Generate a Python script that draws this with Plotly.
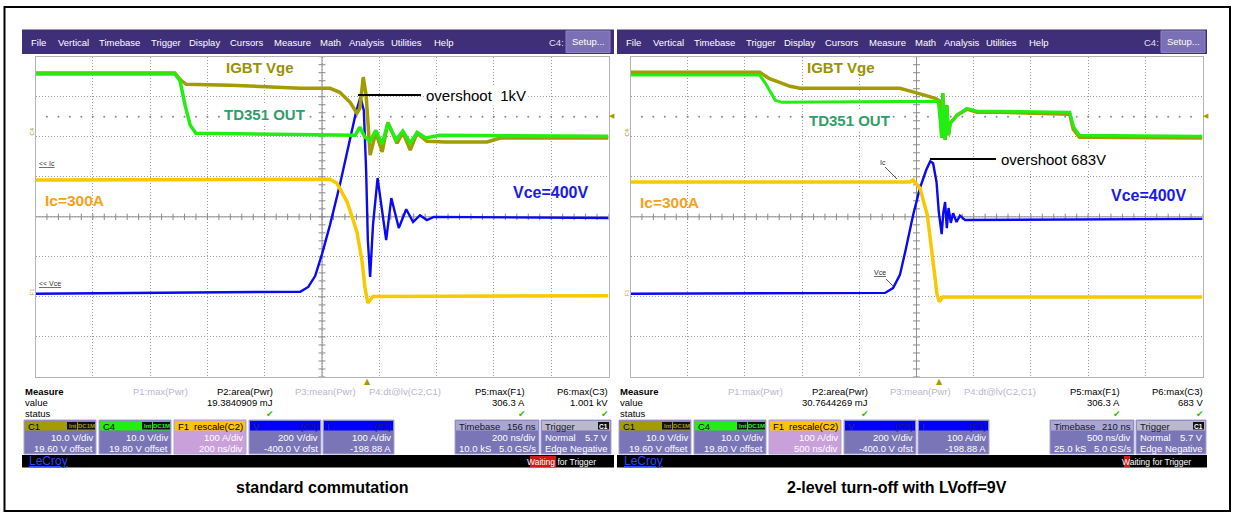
import plotly.graph_objects as go

W, H = 1239, 515
def X(p): return p / W
def Y(p): return 1 - p / H

# ---------------- waveform data (time in divisions 0..10, amplitude in divisions -4..4) -------------
# left scope: standard commutation
L_vge_t = [0, 2.43, 2.54, 2.63, 3.39, 4.62, 5.14, 5.31, 5.49, 5.61, 5.66, 5.72, 5.77, 5.84, 5.94, 6.05,
           6.15, 6.31, 6.41, 6.54, 6.66, 6.83, 7.15, 7.88, 8.11, 10]
L_vge_v = [3.59, 3.59, 3.41, 3.31, 3.29, 3.21, 3.21, 3.11, 2.86, 2.59, 2.71, 3.49, 3.04, 1.54, 2.11, 1.62,
           2.36, 1.84, 2.11, 1.67, 2.09, 1.89, 1.87, 1.87, 1.97, 1.97]
L_out_t = [0, 2.43, 2.52, 2.61, 2.70, 2.80, 5.58, 5.66, 5.75, 5.84, 5.94, 6.05, 6.15, 6.29, 6.41, 6.54,
           6.66, 6.81, 7.06, 10]
L_out_v = [3.57, 3.57, 3.41, 2.79, 2.29, 2.09, 2.04, 2.24, 1.99, 1.89, 2.16, 1.82, 2.34, 1.92, 2.14, 1.84,
           2.11, 1.97, 2.04, 2.01]
L_ic_t = [0, 5.14, 5.26, 5.44, 5.61, 5.70, 5.75, 5.80, 5.89, 10]
L_ic_v = [0.92, 0.94, 0.84, 0.37, -0.38, -1.12, -1.77, -2.15, -1.99, -1.97]
L_vce_t = [0, 4.62, 4.76, 4.88, 5.00, 5.14, 5.31, 5.49, 5.59, 5.67, 5.73, 5.77, 5.80, 5.84, 5.89, 5.97,
           6.04, 6.12, 6.21, 6.34, 6.47, 6.59, 6.71, 6.83, 6.95, 10]
L_vce_v = [-1.92, -1.87, -1.75, -1.48, -0.93, -0.20, 0.79, 1.92, 2.59, 2.99, 2.66, 1.17, -0.58, -1.50,
           -0.20, 0.97, 0.29, -0.58, 0.47, -0.28, 0.19, -0.13, 0.04, -0.08, 0.00, -0.03]

# right scope: 2-level turn-off
R_vge_t = [0, 2.26, 2.42, 2.79, 2.96, 4.71, 4.97, 5.33, 5.41, 5.44, 5.46, 5.50, 5.53, 5.56, 5.59, 5.71,
           5.88, 6.06, 6.46, 7.68, 7.74, 7.85, 10]
R_vge_v = [3.61, 3.61, 3.46, 3.26, 3.21, 3.21, 3.11, 2.96, 2.89, 1.97, 3.09, 1.92, 2.79, 2.04, 2.34, 2.54,
           2.69, 2.61, 2.61, 2.56, 2.19, 1.99, 1.97]
R_out_t = [0, 2.26, 2.37, 2.53, 2.65, 5.38, 5.44, 5.46, 5.50, 5.53, 5.56, 5.59, 5.71, 5.88, 6.06, 6.46,
           7.68, 7.75, 7.85, 10]
R_out_v = [3.54, 3.54, 3.31, 2.91, 2.86, 2.89, 1.97, 3.09, 1.92, 2.79, 2.04, 2.34, 2.54, 2.71, 2.64, 2.64,
           2.61, 2.24, 2.04, 2.01]
R_ic_t = [0, 4.88, 4.94, 5.06, 5.19, 5.29, 5.36, 5.40, 5.46, 10]
R_ic_v = [0.87, 0.87, 0.92, 0.72, 0.04, -1.12, -1.95, -2.12, -2.00, -2.00]
R_vce_t = [0, 4.45, 4.59, 4.71, 4.81, 4.94, 5.06, 5.17, 5.24, 5.29, 5.35, 5.39, 5.44, 5.47, 5.50, 5.53,
           5.56, 5.60, 5.64, 5.70, 5.76, 5.85, 10]
R_vce_v = [-1.92, -1.90, -1.78, -1.45, -0.83, 0.04, 0.72, 1.17, 1.39, 1.34, 0.87, 0.12, -0.43, 0.12, 0.37,
           -0.28, 0.22, -0.15, 0.09, -0.13, 0.03, -0.08, -0.05]

# ---------------- texts ----------------
menu_items = ["File", "Vertical", "Timebase", "Trigger", "Display", "Cursors", "Measure", "Math",
              "Analysis", "Utilities", "Help"]
measure_headers = ["P1:max(Pwr)", "P2:area(Pwr)", "P3:mean(Pwr)", "P4:dt@lv(C2,C1)", "P5:max(F1)", "P6:max(C3)"]
L_values = ["19.3840909 mJ", "306.3 A", "1.001 kV"]
R_values = ["30.7644269 mJ", "306.3 A", "683 V"]
L_timebase = ["156 ns", "200 ns/div", "10.0 kS", "5.0 GS/s"]
R_timebase = ["210 ns", "500 ns/div", "25.0 kS", "5.0 GS/s"]
L_f1_rows = ["100 A/div", "200 ns/div"]
R_f1_rows = ["100 A/div", "500 ns/div"]
captions = ["standard commutation", "2-level turn-off with LVoff=9V"]
overshoot_labels = ["overshoot  1kV", "overshoot 683V"]

C_VGE = "#a39c00"
C_OUT = "#22ee11"
C_IC = "#f8c800"
C_VCE = "#0a0af0"
MENU = "#3f2f78"
BODY = "#7a75b6"
FONT = "Liberation Sans, Arial, sans-serif"

fig = go.Figure()
shapes = []
ann = []

def txt(x, y, s, size=10, color="black", anchor="left", bold=False, bg=None, angle=0, family=FONT):
    if bold:
        s = "<b>" + s + "</b>"
    d = dict(x=X(x), y=Y(y), xref="paper", yref="paper", text=s, showarrow=False,
             xanchor=anchor, yanchor="middle", font=dict(size=size, color=color, family=family),
             textangle=angle, borderpad=0)
    if bg:
        d["bgcolor"] = bg
        d["borderpad"] = 1
    ann.append(d)

def rect(x0, y0, x1, y1, fill, line=None, lw=1):
    shapes.append(dict(type="rect", xref="paper", yref="paper", x0=X(x0), x1=X(x1), y0=Y(y1), y1=Y(y0),
                       fillcolor=fill, line=dict(color=line or fill, width=lw if line else 0), layer="below"))

def pline(x0, y0, x1, y1, color="black", w=1, layer="above"):
    shapes.append(dict(type="line", xref="paper", yref="paper", x0=X(x0), x1=X(x1), y0=Y(y0), y1=Y(y1),
                       line=dict(color=color, width=w), layer=layer))

# outer frame
shapes.append(dict(type="rect", xref="paper", yref="paper", x0=X(4.5), x1=X(1230), y0=Y(511), y1=Y(7),
                   line=dict(color="black", width=2), fillcolor="rgba(0,0,0,0)"))

scopes = [
    dict(dx=0, ax="x", ay="y", gx0=35.5, gx1=608.5,
         data=[(L_vce_t, L_vce_v, C_VCE, 2.4), (L_ic_t, L_ic_v, C_IC, 3.5),
               (L_vge_t, L_vge_v, C_VGE, 3.5), (L_out_t, L_out_v, C_OUT, 3.5)],
         values=L_values, tb=L_timebase, f1=L_f1_rows, trig=367),
    dict(dx=595, ax="x2", ay="y2", gx0=630.5, gx1=1202.5,
         data=[(R_vce_t, R_vce_v, C_VCE, 2.4), (R_ic_t, R_ic_v, C_IC, 3.5),
               (R_vge_t, R_vge_v, C_VGE, 3.5), (R_out_t, R_out_v, C_OUT, 3.0)],
         values=R_values, tb=R_timebase, f1=R_f1_rows, trig=939),
]
GY0, GY1 = 56.7, 377.0

menu_x = [30, 57, 98, 150, 188, 229, 273, 319, 348, 390, 433]

for i, sc in enumerate(scopes):
    dx = sc["dx"]
    # menu bar
    rect(22 + dx, 29.5, 614 + dx - (2 if i else 0), 54, MENU)
    rect(566 + dx, 31, 610 + dx, 52.5, "#7b6fb6", line="#8f84c4")
    for name, mx in zip(menu_items, menu_x):
        txt(mx + dx, 42, name, size=9.5, color="white")
    txt(548 + dx, 42, "C4:", size=9.5, color="#e0e0f0")
    txt(588 + dx, 41.5, "Setup...", size=9.5, color="white", anchor="center")

    # axes
    xa = "xaxis" if i == 0 else "xaxis2"
    ya = "yaxis" if i == 0 else "yaxis2"
    fig.layout[xa] = dict(domain=[X(sc["gx0"]), X(sc["gx1"])], range=[0, 10], dtick=1, tick0=0,
                          showgrid=True, gridcolor="#9a9a9a", griddash="1px,2px", gridwidth=1,
                          showticklabels=False, ticks="", zeroline=False, showline=True,
                          linecolor="#b4b4b4", mirror=True, anchor=sc["ay"], fixedrange=True)
    fig.layout[ya] = dict(domain=[Y(GY1), Y(GY0)], range=[-4, 4], dtick=1, tick0=0,
                          showgrid=True, gridcolor="#9a9a9a", griddash="1px,2px", gridwidth=1,
                          showticklabels=False, ticks="", zeroline=False, showline=True,
                          linecolor="#b4b4b4", mirror=True, anchor=sc["ax"], fixedrange=True)
    # centre cross
    shapes.append(dict(type="line", xref=sc["ax"], yref=sc["ay"], x0=5, x1=5, y0=-4, y1=4,
                       line=dict(color="#8a8a8a", width=1), layer="below"))
    shapes.append(dict(type="line", xref=sc["ax"], yref=sc["ay"], x0=0, x1=10, y0=0, y1=0,
                       line=dict(color="#8a8a8a", width=1), layer="below"))
    tx, ty = [], []
    for k in range(51):
        xv = k * 0.2
        tx += [xv, xv, None]
        ty += [-0.08, 0.08, None]
    for k in range(41):
        yv = -4 + k * 0.2
        tx += [4.94, 5.06, None]
        ty += [yv, yv, None]
    fig.add_trace(go.Scatter(x=tx, y=ty, mode="lines", line=dict(color="#8a8a8a", width=1),
                             xaxis=sc["ax"], yaxis=sc["ay"], hoverinfo="skip", showlegend=False))
    # trigger level dotted row
    fig.add_trace(go.Scatter(x=[k * 0.2 for k in range(1, 50)], y=[2.5] * 49, mode="markers",
                             marker=dict(color="#8a8a8a", size=2), xaxis=sc["ax"], yaxis=sc["ay"],
                             hoverinfo="skip", showlegend=False))
    # waveforms
    for t, v, c, w in sc["data"]:
        fig.add_trace(go.Scatter(x=t, y=v, mode="lines", line=dict(color=c, width=w),
                                 xaxis=sc["ax"], yaxis=sc["ay"], hoverinfo="skip", showlegend=False))

    # markers at grid edges
    txt(sc["trig"], 381, "▲", size=8, color=C_VGE, anchor="center", family="DejaVu Sans")
    txt(sc["gx1"] + 3, 116, "◀", size=7, color=C_VGE, anchor="center", family="DejaVu Sans")
    txt(sc["gx0"] - 4, 132, "C4", size=6, color=C_VGE, anchor="center", angle=-90)
    txt(sc["gx0"] - 4, 292, "F1", size=6, color="#d8a800", anchor="center", angle=-90)

    # measure panel
    txt(24 + dx, 391, "Measure", size=9.5, bold=True)
    txt(24 + dx, 402.5, "value", size=9.5)
    txt(24 + dx, 413.5, "status", size=9.5)
    mh_x = [189, 274, 357, 442, 526, 609]
    mh_c = ["#b8b8c8", "black", "#b8b8c8", "#b8b8c8", "black", "black"]
    for s, hx, hc in zip(measure_headers, mh_x, mh_c):
        txt(hx + dx, 391, s, size=9.5, color=hc, anchor="right")
    for s, hx in zip(sc["values"], [274, 526, 609]):
        txt(hx + dx, 402.5, s, size=9.5, anchor="right")
    for hx in [270, 522, 605]:
        txt(hx + dx, 413.5, "✔", size=9, color="#39b800", anchor="center", family="DejaVu Sans")

    # channel boxes
    boxes = [
        (24, 96, C_VGE, BODY, "C1", "black", "", "black", ["10.0 V/div", "19.60 V offset"]),
        (99, 171, C_OUT, BODY, "C4", "black", "", "black", ["10.0 V/div", "19.80 V offset"]),
        (174, 246, "#ffc400", "#c9a0d9", "F1", "black", "rescale(C2)", "black", sc["f1"]),
        (249, 321, "#0000ff", BODY, "V", "#30305a", "(C3)", "#1a1a70", ["200 V/div", "-400.0 V ofst"]),
        (323, 394, "#0000ff", BODY, "I", "#30305a", "(F1)", "#1a1a70", ["100 A/div", "-198.88 A"]),
    ]
    for x0, x1, hc, bc, hl, hlc, hr, hrc, rows in boxes:
        rect(x0 + dx, 420, x1 + dx, 454, bc, line="#a9a4d6")
        rect(x0 + dx + 1, 421, x1 + dx - 1, 430.5, hc)
        txt(x0 + dx + 3, 426, hl, size=9.5, color=hlc)
        if hr:
            txt(x1 + dx - 2, 426, hr, size=9.5, color=hrc, anchor="right")
        txt(x1 + dx - 2, 437.5, rows[0], size=9.5, color="white", anchor="right")
        txt(x1 + dx - 2, 448.5, rows[1], size=9.5, color="white", anchor="right")
    for bx0, bw in [(67, 10), (78, 17)]:
        for base in (24, 99):
            rect(base + bx0 - 24 + dx, 422, base + bx0 - 24 + bw + dx, 429.5, "#111111")
    for base, c in ((24, C_VGE), (99, C_OUT)):
        txt(base + 48 + dx, 426, "Int", size=6, color=c, anchor="center", bold=True)
        txt(base + 62.5 + dx, 426, "DC1M", size=6, color=c, anchor="center", bold=True)
    # timebase
    tb = sc["tb"]
    rect(455 + dx, 420, 539 + dx, 454, BODY, line="#a9a4d6")
    rect(456 + dx, 421, 538 + dx, 430.5, "#a9a6d2")
    txt(458 + dx, 426, "Timebase", size=9.5, color="#151530")
    txt(537 + dx, 426, tb[0], size=9.5, color="#151530", anchor="right")
    txt(537 + dx, 437.5, tb[1], size=9.5, color="white", anchor="right")
    txt(458 + dx, 448.5, tb[2], size=9.5, color="white")
    txt(537 + dx, 448.5, tb[3], size=9.5, color="white", anchor="right")
    # trigger
    rect(541 + dx, 420, 611 + dx, 454, BODY, line="#a9a4d6")
    rect(542 + dx, 421, 610 + dx, 430.5, "#b9b8cc")
    txt(544 + dx, 426, "Trigger", size=9.5, color="#151530")
    rect(598 + dx, 422, 609 + dx, 429.5, "#111111")
    txt(603.5 + dx, 426, "C1", size=6.5, color="white", anchor="center", bold=True)
    txt(544 + dx, 437.5, "Normal", size=9.5, color="white")
    txt(609 + dx, 437.5, "5.7 V", size=9.5, color="white", anchor="right")
    txt(544 + dx, 448.5, "Edge", size=9.5, color="white")
    txt(609 + dx, 448.5, "Negative", size=9.5, color="white", anchor="right")

    # status bar
    rect(22 + dx, 455, 614 + dx - (2 if i else 0), 467.5, "black")
    txt(28 + dx, 461, "<u>LeCroy</u>", size=12, color="#2a46ff")
    if i == 0:
        rect(530, 456, 556, 467, "#d01818")
    else:
        rect(1124, 456, 1130, 467, "#d01818")
    txt(597 + dx, 461.5, "Waiting for Trigger", size=8.5, color="white", anchor="right")

    # caption
    txt([322, 897][i], 487, captions[i], size=16, bold=True, anchor="center")

# ---- in-plot labels, left scope ----
txt(260, 68, "IGBT Vge", size=15, color="#9a9100", bold=True, anchor="center", bg="white")
txt(264, 114, "TD351 OUT", size=15, color="#2f9e6a", bold=True, anchor="center", bg="white")
txt(74, 200, "Ic=300A", size=15.5, color="#f7a11a", bold=True, anchor="center")
txt(551, 192, "Vce=400V", size=16, color="#1a1ae6", bold=True, anchor="center")
txt(38, 163, "<u>&lt;&lt; Ic</u>", size=7, color="#333333")
txt(38, 283, "<u>&lt;&lt; Vce</u>", size=7, color="#333333")
pline(358, 95, 421, 95, "black", 2)
txt(424, 95, overshoot_labels[0], size=15, bg="white")

# ---- in-plot labels, right scope ----
txt(841, 68, "IGBT Vge", size=15, color="#9a9100", bold=True, anchor="center", bg="white")
txt(849, 120, "TD351 OUT", size=15, color="#2f9e6a", bold=True, anchor="center", bg="white")
txt(669, 202, "Ic=300A", size=15.5, color="#f7a11a", bold=True, anchor="center")
txt(1149, 195, "Vce=400V", size=16, color="#1a1ae6", bold=True, anchor="center")
txt(883, 162, "Ic", size=7, color="#333333", anchor="center")
pline(885, 167, 897, 179, "#555555", 1)
txt(880, 272, "<u>Vce</u>", size=7, color="#333333", anchor="center")
pline(886, 279, 893, 286, "#555555", 1)
pline(930, 159, 996, 159, "black", 2)
txt(999, 159, overshoot_labels[1], size=15, bg="white")

fig.update_layout(width=W, height=H, margin=dict(l=0, r=0, t=0, b=0), paper_bgcolor="white",
                  plot_bgcolor="white", showlegend=False, shapes=shapes, annotations=ann,
                  font=dict(family=FONT))
fig.write_html("out.html", config={"displayModeBar": False, "staticPlot": True},
               post_script="document.body.style.margin='0';document.body.style.overflow='hidden';")
